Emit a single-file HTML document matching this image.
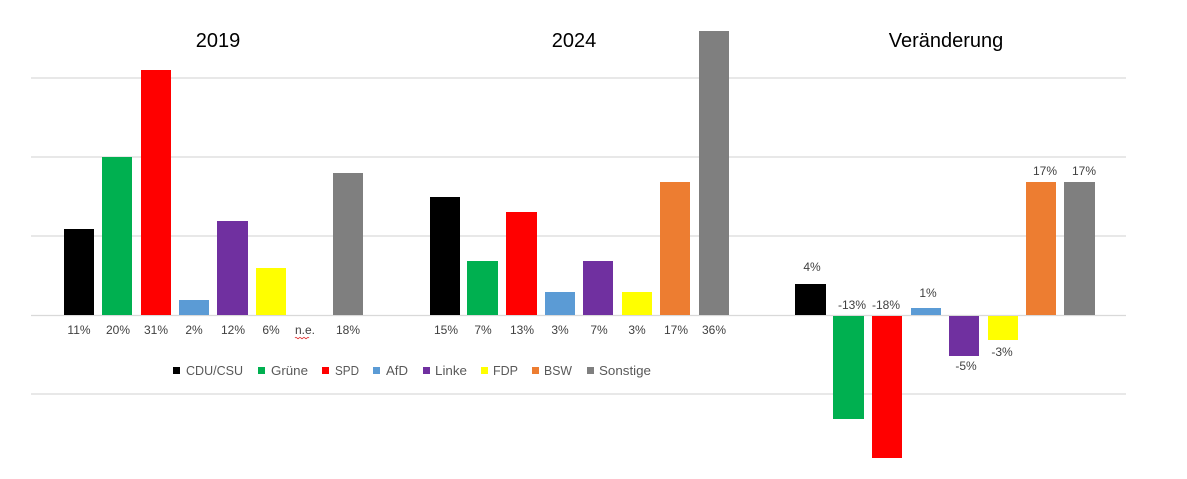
<!DOCTYPE html>
<html><head><meta charset="utf-8"><style>
html,body{margin:0;padding:0;background:#fff;}
svg{display:block;}
text{font-family:"Liberation Sans",Arial,sans-serif;}
</style></head><body>
<svg width="1187" height="479" viewBox="0 0 1187 479" xmlns="http://www.w3.org/2000/svg">
<rect width="1187" height="479" fill="#fff"/>
<g stroke="#d9d9d9" stroke-width="1.3">
<line x1="31" y1="78" x2="1126" y2="78"/>
<line x1="31" y1="157" x2="1126" y2="157"/>
<line x1="31" y1="236" x2="1126" y2="236"/>
<line x1="31" y1="315.5" x2="1126" y2="315.5"/>
<line x1="31" y1="394" x2="1126" y2="394"/>
</g>
<g font-size="20" fill="#000" text-anchor="middle">
<text x="218" y="47">2019</text>
<text x="574" y="47">2024</text>
<text x="946" y="47">Veränderung</text>
</g>
<!-- 2019 -->
<rect x="64" y="229" width="30" height="86" fill="#000"/>
<rect x="102" y="157" width="30" height="158" fill="#00b050"/>
<rect x="141" y="70" width="30" height="245" fill="#ff0000"/>
<rect x="179" y="300" width="30" height="15" fill="#5b9bd5"/>
<rect x="217" y="221" width="31" height="94" fill="#7030a0"/>
<rect x="256" y="268" width="30" height="47" fill="#ffff00"/>
<rect x="333" y="173" width="30" height="142" fill="#7f7f7f"/>
<!-- 2024 -->
<rect x="430" y="197" width="30" height="118" fill="#000"/>
<rect x="467" y="261" width="31" height="54" fill="#00b050"/>
<rect x="506" y="212" width="31" height="103" fill="#ff0000"/>
<rect x="545" y="292" width="30" height="23" fill="#5b9bd5"/>
<rect x="583" y="261" width="30" height="54" fill="#7030a0"/>
<rect x="622" y="292" width="30" height="23" fill="#ffff00"/>
<rect x="660" y="182" width="30" height="133" fill="#ed7d31"/>
<rect x="699" y="31" width="30" height="284" fill="#7f7f7f"/>
<!-- Veränderung -->
<rect x="795" y="284" width="31" height="31" fill="#000"/>
<rect x="833" y="316" width="31" height="103" fill="#00b050"/>
<rect x="872" y="316" width="30" height="142" fill="#ff0000"/>
<rect x="911" y="308" width="30" height="7" fill="#5b9bd5"/>
<rect x="949" y="316" width="30" height="40" fill="#7030a0"/>
<rect x="988" y="316" width="30" height="24" fill="#ffff00"/>
<rect x="1026" y="182" width="30" height="133" fill="#ed7d31"/>
<rect x="1064" y="182" width="31" height="133" fill="#7f7f7f"/>
<g font-size="12" fill="#404040" text-anchor="middle">
<text x="79" y="334">11%</text>
<text x="118" y="334">20%</text>
<text x="156" y="334">31%</text>
<text x="194" y="334">2%</text>
<text x="233" y="334">12%</text>
<text x="271" y="334">6%</text>
<text x="305" y="334">n.e.</text>
<text x="348" y="334">18%</text>
<text x="446" y="334">15%</text>
<text x="483" y="334">7%</text>
<text x="522" y="334">13%</text>
<text x="560" y="334">3%</text>
<text x="599" y="334">7%</text>
<text x="637" y="334">3%</text>
<text x="676" y="334">17%</text>
<text x="714" y="334">36%</text>
<text x="812" y="271">4%</text>
<text x="852" y="309">-13%</text>
<text x="886" y="309">-18%</text>
<text x="928" y="297">1%</text>
<text x="966" y="370">-5%</text>
<text x="1002" y="356">-3%</text>
<text x="1045" y="175">17%</text>
<text x="1084" y="175">17%</text>
</g>
<path d="M295 338 q1 -1.5 2 0 t2 0 t2 0 t2 0 t2 0 t2 0 t2 0" stroke="#e03030" stroke-width="0.8" fill="none"/>
<!-- legend -->
<g>
<rect x="173" y="367" width="7" height="7" fill="#000"/>
<rect x="258" y="367" width="7" height="7" fill="#00b050"/>
<rect x="322" y="367" width="7" height="7" fill="#ff0000"/>
<rect x="373" y="367" width="7" height="7" fill="#5b9bd5"/>
<rect x="423" y="367" width="7" height="7" fill="#7030a0"/>
<rect x="481" y="367" width="7" height="7" fill="#ffff00"/>
<rect x="532" y="367" width="7" height="7" fill="#ed7d31"/>
<rect x="587" y="367" width="7" height="7" fill="#7f7f7f"/>
</g>
<g font-size="12.5" fill="#595959">
<text x="186" y="375" textLength="57" lengthAdjust="spacingAndGlyphs">CDU/CSU</text>
<text x="271" y="375" textLength="37" lengthAdjust="spacingAndGlyphs">Grüne</text>
<text x="335" y="375" textLength="24" lengthAdjust="spacingAndGlyphs">SPD</text>
<text x="386" y="375" textLength="22" lengthAdjust="spacingAndGlyphs">AfD</text>
<text x="435" y="375" textLength="32" lengthAdjust="spacingAndGlyphs">Linke</text>
<text x="493" y="375" textLength="25" lengthAdjust="spacingAndGlyphs">FDP</text>
<text x="544" y="375" textLength="28" lengthAdjust="spacingAndGlyphs">BSW</text>
<text x="599" y="375" textLength="52" lengthAdjust="spacingAndGlyphs">Sonstige</text>
</g>
</svg>
</body></html>
